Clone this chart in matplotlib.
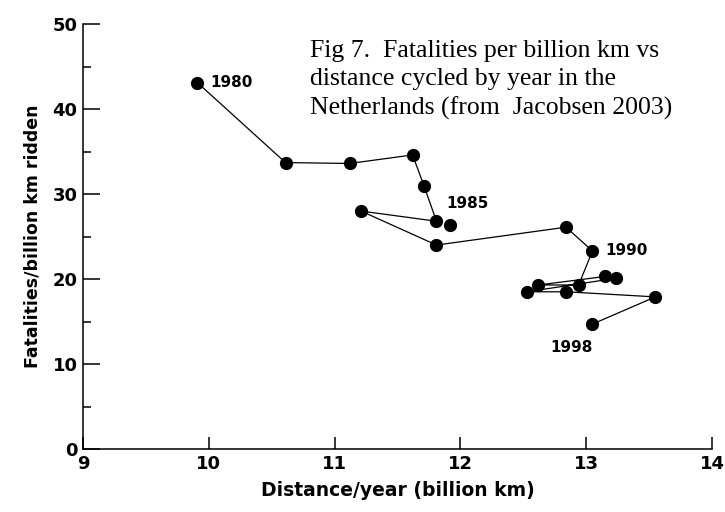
import numpy as np
import matplotlib
matplotlib.use("Agg")
import matplotlib.pyplot as plt
from matplotlib.ticker import MultipleLocator

# Cycling in the Netherlands, 1980-1998
years = list(range(1980, 1999))
distance = [9.91, 10.61, 11.12, 11.62, 11.71, 11.92, 11.81, 11.21, 11.81, 12.84,
            13.05, 12.94, 12.62, 13.15, 13.24, 12.53, 12.84, 13.55, 13.05]
fatalities = [43.1, 33.7, 33.6, 34.6, 31.0, 26.3, 26.8, 28.0, 24.0, 26.1,
              23.3, 19.3, 19.3, 20.3, 20.1, 18.5, 18.5, 17.9, 14.7]
labelled_years = [1980, 1985, 1990, 1998]
label_pos = [(10.01, 43.1), (11.89, 28.9), (13.15, 23.4), (12.88, 11.9)]

fig = plt.figure(figsize=(7.25, 5.12), dpi=100)
ax = fig.add_axes([0.1145, 0.123, 0.8675, 0.830])

x = np.array(distance)
y = np.array(fatalities)
yrs = np.array(years)
joined = yrs != 1985  # this point sits off the connecting line in the original

ax.plot(x[joined], y[joined], color="black", lw=0.9, zorder=2)
ax.plot(x, y, "o", color="black", ms=8.5, zorder=3)

for yr, (tx, ty) in zip(labelled_years, label_pos):
    ha = "center" if yr == 1998 else "left"
    ax.text(tx, ty, str(yr), ha=ha, va="center", fontsize=11,
            fontweight="bold", family="DejaVu Sans")

ax.set_xlim(9, 14)
ax.set_ylim(0, 50)
ax.xaxis.set_major_locator(MultipleLocator(1))
ax.yaxis.set_major_locator(MultipleLocator(10))
ax.yaxis.set_minor_locator(MultipleLocator(5))

for s in ["top", "right"]:
    ax.spines[s].set_visible(False)
for s in ["left", "bottom"]:
    ax.spines[s].set_linewidth(1.1)

ax.tick_params(axis="y", which="major", direction="in", length=12, width=1.1,
               labelsize=13, pad=4)
ax.tick_params(axis="y", which="minor", direction="in", length=6, width=1.1)
ax.tick_params(axis="x", which="major", direction="in", length=9, width=1.1,
               labelsize=13, pad=4)
for lab in ax.get_xticklabels() + ax.get_yticklabels():
    lab.set_fontweight("bold")

ax.set_xlabel("Distance/year (billion km)", fontsize=13.5, fontweight="bold", labelpad=6)
ax.set_ylabel("Fatalities/billion km ridden", fontsize=12.5, fontweight="bold", labelpad=8)

fig.text(310 / 725, 1 - 40 / 512,
         "Fig 7.  Fatalities per billion km vs\ndistance cycled by year in the\nNetherlands (from  Jacobsen 2003)",
         family="Liberation Serif", fontsize=18.5, va="top", ha="left", linespacing=1.35)

fig.savefig("out.png", dpi=100)
